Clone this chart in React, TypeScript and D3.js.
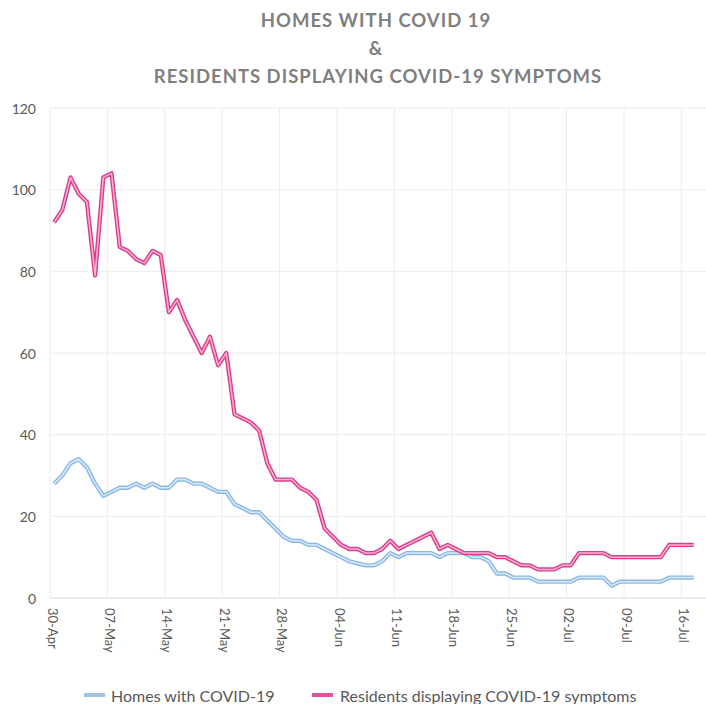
import React from 'react';
import * as d3 from 'd3';

// daily values, 30-Apr .. 17-Jul
const homes = [
    28, 30, 33, 34, 32, 28, 25, 26, 27, 27, 28, 27, 28, 27, 27, 29, 29, 28, 28, 27,
    26, 26, 23, 22, 21, 21, 19, 17, 15, 14, 14, 13, 13, 12, 11, 10, 9, 8.5, 8, 8,
    9, 11, 10, 11, 11, 11, 11, 10, 11, 11, 11, 10, 10, 9, 6, 6, 5, 5, 5, 4,
    4, 4, 4, 4, 5, 5, 5, 5, 3, 4, 4, 4, 4, 4, 4, 5, 5, 5, 5,
];
const residents = [
    92, 95, 103, 99, 97, 79, 103, 104, 86, 85, 83, 82, 85, 84, 70, 73, 68, 64, 60, 64,
    57, 60, 45, 44, 43, 41, 33, 29, 29, 29, 27, 26, 24, 17, 15, 13, 12, 12, 11, 11,
    12, 14, 12, 13, 14, 15, 16, 12, 13, 12, 11, 11, 11, 11, 10, 10, 9, 8, 8, 7,
    7, 7, 8, 8, 11, 11, 11, 11, 10, 10, 10, 10, 10, 10, 10, 13, 13, 13, 13,
];
const tickLabels = [
    '30-Apr', '07-May', '14-May', '21-May', '28-May', '04-Jun', '11-Jun',
    '18-Jun', '25-Jun', '02-Jul', '09-Jul', '16-Jul',
];
const yTicks = [0, 20, 40, 60, 80, 100, 120];
const seriesNames = ['Homes with COVID-19', 'Residents displaying COVID-19 symptoms'];

const W = 706;
const H = 704;
const FONT = 'Lato, "Open Sans", sans-serif';

export default function App() {
    const left = 50;
    const right = 706;
    const top = 108;
    const bottom = 598;

    const nDays = homes.length + 1;
    const x = d3.scaleLinear().domain([0, nDays]).range([left, right]);
    const y = d3.scaleLinear().domain([0, 120]).range([bottom, top]);

    // each point sits in the middle of its day slot
    const line = d3.line<number>()
        .x((_, i) => x(i + 0.5))
        .y(d => y(d));

    const series = [
        { values: homes, outer: '#8ab8e6', inner: '#dce9f8' },
        { values: residents, outer: '#db3d8c', inner: '#f6b3d3' },
    ];

    return (
        <svg width={W} height={H} style={{ display: 'block', position: 'absolute', left: 0, top: 0 }}>
            <rect width={W} height={H} fill="#fff" />

            <g fontFamily={FONT} fontWeight={700} fill="#7f7f7f" fontSize={18.5}
                textAnchor="middle" letterSpacing={1}>
                <text x={376} y={27}>HOMES WITH COVID 19</text>
                <text x={376} y={55}>&amp;</text>
                <text x={378} y={83}>RESIDENTS DISPLAYING COVID-19 SYMPTOMS</text>
            </g>

            {/* grid */}
            <g stroke="#ececec" strokeWidth={1}>
                {yTicks.map(t => (
                    <line key={t} x1={left} x2={right} y1={y(t)} y2={y(t)}
                        stroke={t === 0 ? '#d9d9d9' : '#ececec'} />
                ))}
                {tickLabels.map((_, k) => (
                    <line key={k} x1={x(7 * k)} x2={x(7 * k)} y1={top} y2={bottom} />
                ))}
            </g>

            <g fontFamily={FONT} fontSize={14} fill="#595959" textAnchor="end">
                {yTicks.map(t => (
                    <text key={t} x={36} y={y(t)} dominantBaseline="central">{t}</text>
                ))}
            </g>

            <g fontFamily={FONT} fontSize={13} fill="#595959">
                {tickLabels.map((l, k) => (
                    <text key={l} transform={`translate(${x(7 * k) + 2.5},608) rotate(90)`}
                        dominantBaseline="central">{l}</text>
                ))}
            </g>

            {series.map((s, i) => (
                <g key={i} fill="none" strokeLinejoin="round">
                    <path d={line(s.values) || ''} stroke={s.outer} strokeWidth={4.3} />
                    <path d={line(s.values) || ''} stroke={s.inner} strokeWidth={1.5} />
                </g>
            ))}

            <g fontFamily={FONT} fontSize={16} fill="#595959">
                <line x1={84} x2={105} y1={695} y2={695} stroke="#9dc3e6" strokeWidth={4} />
                <text x={111} y={695} dominantBaseline="central">{seriesNames[0]}</text>
                <line x1={312} x2={333} y1={695} y2={695} stroke="#e0509b" strokeWidth={4} />
                <text x={340} y={695} dominantBaseline="central">{seriesNames[1]}</text>
            </g>
        </svg>
    );
}
